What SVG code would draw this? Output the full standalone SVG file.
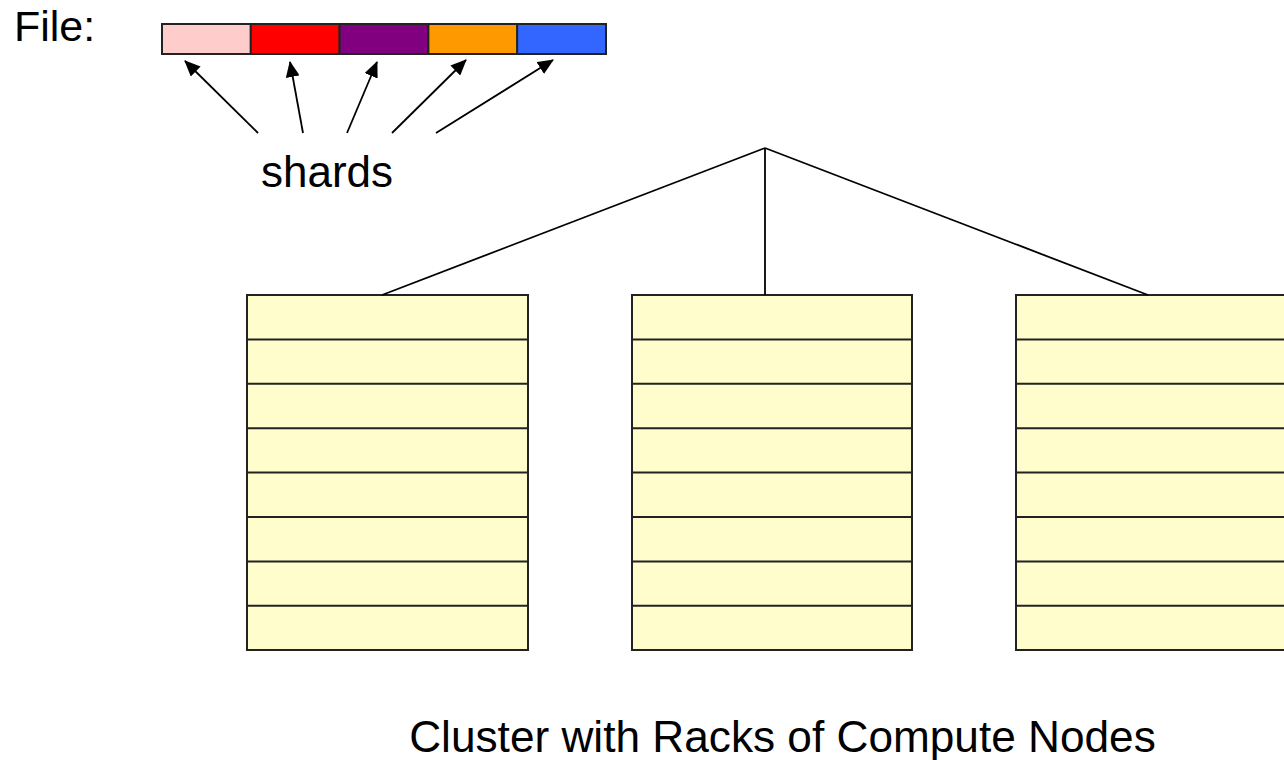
<svg xmlns="http://www.w3.org/2000/svg" width="1284" height="760" viewBox="0 0 1284 760">
<style>
text{font-family:"Liberation Sans",Arial,sans-serif;fill:#000}
.seg{stroke:#222;stroke-width:2}
.rack rect{fill:#FFFDCC;stroke:#222;stroke-width:2}
.con{stroke:#000;stroke-width:1.8;fill:none}
</style>
<defs>
<marker id="ah" markerWidth="16" markerHeight="14" refX="15" refY="7" orient="auto" markerUnits="userSpaceOnUse" viewBox="0 0 16 14">
<path d="M0,0 L16,7 L0,14 z" fill="#000"/>
</marker>
<g id="rows" stroke="#222" stroke-width="2">
<line x1="0" y1="44.4" x2="281" y2="44.4"/>
<line x1="0" y1="88.8" x2="281" y2="88.8"/>
<line x1="0" y1="133.2" x2="281" y2="133.2"/>
<line x1="0" y1="177.6" x2="281" y2="177.6"/>
<line x1="0" y1="222" x2="281" y2="222"/>
<line x1="0" y1="266.4" x2="281" y2="266.4"/>
<line x1="0" y1="310.8" x2="281" y2="310.8"/>
</g>
</defs>
<rect width="1284" height="760" fill="#fff"/>
<text x="14" y="41" font-size="43">File:</text>
<g id="file">
<rect class="seg" x="162" y="24" width="88.8" height="30" fill="#FFCCCC"/>
<rect class="seg" x="250.8" y="24" width="88.8" height="30" fill="#FF0000"/>
<rect class="seg" x="339.6" y="24" width="88.8" height="30" fill="#800080"/>
<rect class="seg" x="428.4" y="24" width="88.8" height="30" fill="#FF9900"/>
<rect class="seg" x="517.2" y="24" width="88.8" height="30" fill="#3366FF"/>
</g>
<g id="shards"><text x="327" y="187" font-size="44" text-anchor="middle">shards</text></g>
<g id="rack1" class="rack"><rect x="247" y="295" width="281" height="355"/><use href="#rows" transform="translate(247,295)"/></g>
<g id="rack2" class="rack"><rect x="632" y="295" width="280" height="355"/><use href="#rows" transform="translate(632,295)"/></g>
<g id="rack3" class="rack"><rect x="1016" y="295" width="281" height="355"/><use href="#rows" transform="translate(1016,295)"/></g>
<g id="connectors">
<line class="con" x1="258" y1="133" x2="185" y2="61" marker-end="url(#ah)"/>
<line class="con" x1="303" y1="133" x2="290" y2="62" marker-end="url(#ah)"/>
<line class="con" x1="347" y1="133" x2="377" y2="62" marker-end="url(#ah)"/>
<line class="con" x1="392" y1="133" x2="466" y2="60" marker-end="url(#ah)"/>
<line class="con" x1="436" y1="133" x2="553" y2="60" marker-end="url(#ah)"/>
<line class="con" x1="765" y1="148" x2="382" y2="295"/>
<line class="con" x1="765" y1="148" x2="765" y2="295"/>
<line class="con" x1="765" y1="148" x2="1148" y2="295"/>
</g>
<g id="caption"><text x="782.5" y="752" font-size="44.2" text-anchor="middle">Cluster with Racks of Compute Nodes</text></g>
</svg>
